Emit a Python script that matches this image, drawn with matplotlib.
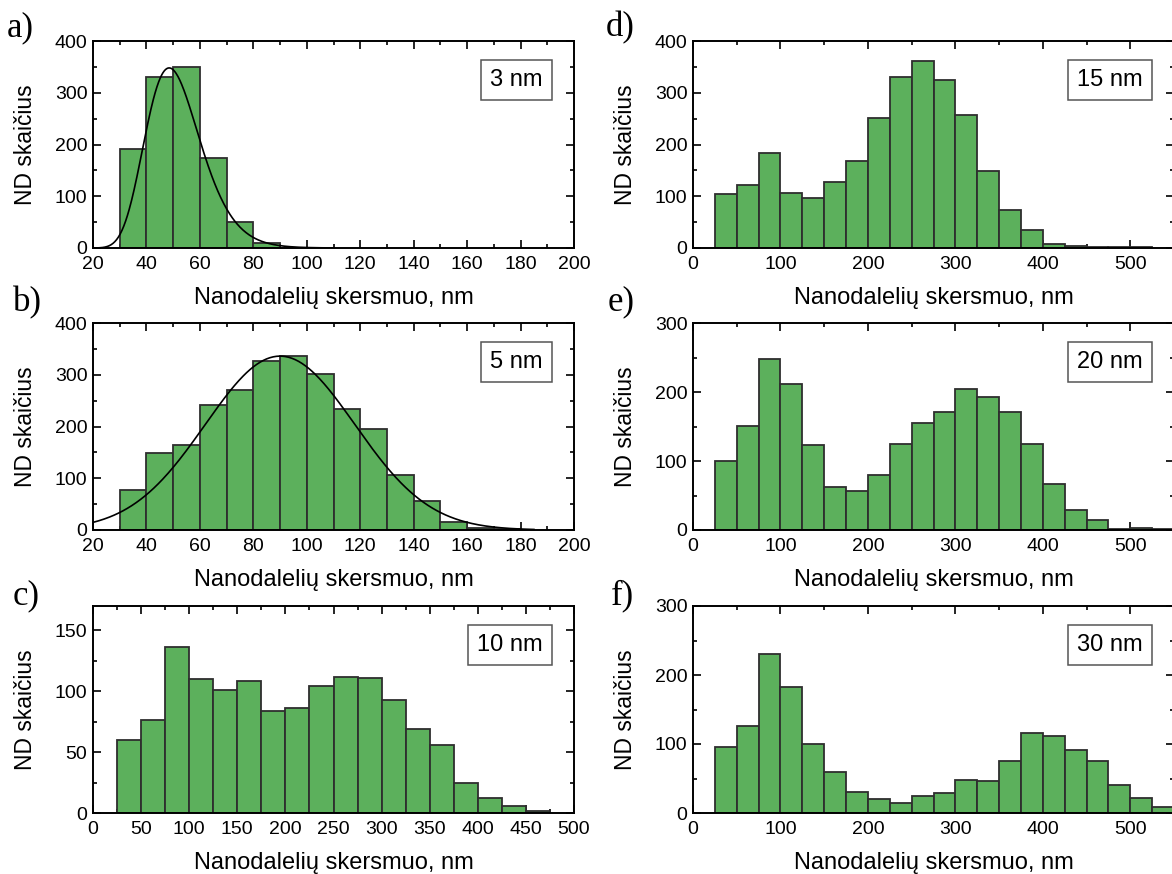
import numpy as np
import matplotlib
matplotlib.use("Agg")
import matplotlib.pyplot as plt
from matplotlib.ticker import MultipleLocator

plt.rcParams["font.family"] = ["Liberation Sans", "DejaVu Sans"]

# histogram counts (left bin edge, bin width, counts)
a_start, a_width = 30, 10
a_counts = [191, 330, 350, 174, 51, 10]
b_start, b_width = 30, 10
b_counts = [77, 148, 164, 241, 271, 326, 336, 301, 234, 196, 107, 57, 16, 3, 1]
c_start, c_width = 25, 25
c_counts = [60, 76, 136, 110, 101, 108, 84, 86, 104, 112, 111, 93, 69, 56, 25, 12, 6, 2]
d_start, d_width = 25, 25
d_counts = [104, 121, 183, 106, 96, 128, 169, 251, 330, 361, 325, 257, 148, 74, 35,
            8, 4, 2, 1, 1]
e_start, e_width = 25, 25
e_counts = [100, 151, 248, 211, 123, 63, 57, 80, 125, 155, 171, 205, 193, 171, 125,
            67, 29, 14, 2, 3, 1]
f_start, f_width = 25, 25
f_counts = [96, 126, 231, 183, 100, 59, 31, 21, 14, 25, 29, 48, 47, 75, 116, 112,
            92, 76, 41, 22, 8]

# fitted curves (parameters)
a_fit = {"peak": 48.5, "width": 0.21, "height": 348.0}   # log-normal
b_fit = {"center": 90.0, "sigma": 28.0, "height": 336.0}  # gaussian

labels = ["3 nm", "5 nm", "10 nm", "15 nm", "20 nm", "30 nm"]
letters = ["a)", "b)", "c)", "d)", "e)", "f)"]

XLABEL = "Nanodalelių skersmuo, nm"
YLABEL = "ND skaičius"
FACE = "#5cb05c"
EDGE = "#2e2e2e"

W, H = 1172, 874
fig = plt.figure(figsize=(W / 100, H / 100), dpi=100)

col_x = [93, 693]
ax_w = 481
row_top = [41, 323, 606]
ax_h = 207


def make_ax(col, row):
    x0 = col_x[col]
    y0 = row_top[row] + ax_h
    return fig.add_axes([x0 / W, 1 - y0 / H, ax_w / W, ax_h / H])


def style(ax, xlim, ylim, xmaj, xmin, ymaj, ymin, label):
    ax.set_xlim(*xlim)
    ax.set_ylim(*ylim)
    ax.xaxis.set_major_locator(MultipleLocator(xmaj))
    ax.xaxis.set_minor_locator(MultipleLocator(xmin))
    ax.yaxis.set_major_locator(MultipleLocator(ymaj))
    ax.yaxis.set_minor_locator(MultipleLocator(ymin))
    ax.tick_params(which="both", direction="in", top=True, right=True,
                   width=1.2, colors="black", labelsize=14)
    ax.tick_params(which="major", length=5.5)
    ax.tick_params(which="minor", length=3)
    ax.tick_params(axis="x", pad=6)
    ax.tick_params(axis="y", pad=4)
    for s in ax.spines.values():
        s.set_linewidth(1.4)
    ax.set_xlabel(XLABEL, fontsize=17)
    ax.set_ylabel(YLABEL, fontsize=16.5)
    ax.xaxis.set_label_coords(0.5, -0.19)
    ax.yaxis.set_label_coords(-0.116, 0.5)
    ax.text(0.935, 0.81, label, transform=ax.transAxes, fontsize=17,
            ha="right", va="center",
            bbox=dict(boxstyle="square,pad=0.38", fc="white", ec="#555555", lw=1.1),
            zorder=5)


def bars(ax, start, width, counts):
    edges = start + width * np.arange(len(counts))
    ax.bar(edges, counts, width=width, align="edge", color=FACE,
           edgecolor=EDGE, linewidth=1.3, zorder=2)


# a) 3 nm
ax = make_ax(0, 0)
bars(ax, a_start, a_width, a_counts)
xs = np.linspace(20, 110, 400)
ys = a_fit["height"] * np.exp(-np.log(xs / a_fit["peak"]) ** 2 / (2 * a_fit["width"] ** 2))
ax.plot(xs, ys, color="black", lw=1.2, zorder=3)
style(ax, (20, 200), (0, 400), 20, 10, 100, 50, labels[0])

# b) 5 nm
ax = make_ax(0, 1)
bars(ax, b_start, b_width, b_counts)
xs = np.linspace(20, 185, 400)
ys = b_fit["height"] * np.exp(-(xs - b_fit["center"]) ** 2 / (2 * b_fit["sigma"] ** 2))
ax.plot(xs, ys, color="black", lw=1.2, zorder=3)
style(ax, (20, 200), (0, 400), 20, 10, 100, 50, labels[1])

# c) 10 nm
ax = make_ax(0, 2)
bars(ax, c_start, c_width, c_counts)
style(ax, (0, 500), (0, 170), 50, 25, 50, 25, labels[2])

# d) 15 nm
ax = make_ax(1, 0)
bars(ax, d_start, d_width, d_counts)
style(ax, (0, 550), (0, 400), 100, 50, 100, 50, labels[3])

# e) 20 nm
ax = make_ax(1, 1)
bars(ax, e_start, e_width, e_counts)
style(ax, (0, 550), (0, 300), 100, 50, 100, 50, labels[4])

# f) 30 nm
ax = make_ax(1, 2)
bars(ax, f_start, f_width, f_counts)
style(ax, (0, 550), (0, 300), 100, 50, 100, 50, labels[5])

letter_pos = [(7, 28), (13, 303), (13, 596), (606, 28), (608, 302), (611, 596)]
for txt, (px, py) in zip(letters, letter_pos):
    fig.text(px / W, 1 - py / H, txt, fontsize=25, ha="left", va="center",
             family=["Liberation Serif", "DejaVu Serif"])

fig.savefig("out.png", dpi=100)
